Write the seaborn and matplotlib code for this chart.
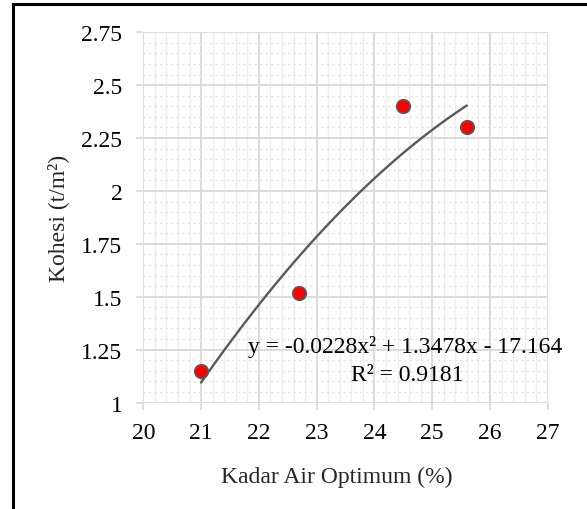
import numpy as np
import pandas as pd
import matplotlib
matplotlib.use("Agg")
import matplotlib.pyplot as plt
import matplotlib.patches as mpatches
from matplotlib.ticker import MultipleLocator, FixedLocator, FixedFormatter
import seaborn as sns

# data
kadar_air = [21.0, 22.7, 24.5, 25.6]
kohesi = [1.15, 1.52, 2.40, 2.30]
x_ticks = [20, 21, 22, 23, 24, 25, 26, 27]
y_ticks = [1, 1.25, 1.5, 1.75, 2, 2.25, 2.5, 2.75]
y_tick_labels = ["1", "1.25", "1.5", "1.75", "2", "2.25", "2.5", "2.75"]
equation_text = "y = -0.0228x\u00b2 + 1.3478x - 17.164"
r2_text = "R\u00b2 = 0.9181"
x_label = "Kadar Air Optimum (%)"
y_label = "Kohesi (t/m\u00b2)"

df = pd.DataFrame({"x": kadar_air, "y": kohesi})

sns.set_theme(style="white")
plt.rcParams["font.family"] = ["Liberation Serif", "DejaVu Serif"]

fig = plt.figure(figsize=(5.87, 5.10), dpi=100)
ax = fig.add_axes([0.2441, 0.2088, 0.689, 0.7259])

# trendline (2nd order polynomial)
sns.regplot(data=df, x="x", y="y", order=2, ci=None, truncate=True,
            scatter=False, ax=ax,
            line_kws=dict(color="#595959", lw=1.7, zorder=3))
# points
sns.scatterplot(data=df, x="x", y="y", ax=ax, s=95, color="#ff0000",
                edgecolor="#595959", linewidth=1.2, zorder=4)

ax.set_xlim(20, 27)
ax.set_ylim(1, 2.75)
ax.xaxis.set_major_locator(FixedLocator(x_ticks))
ax.yaxis.set_major_locator(FixedLocator(y_ticks))
ax.yaxis.set_major_formatter(FixedFormatter(y_tick_labels))
ax.xaxis.set_minor_locator(MultipleLocator(0.2))
ax.yaxis.set_minor_locator(MultipleLocator(0.05))

ax.grid(which="major", color="#d9d9d9", lw=1.3)
ax.grid(which="minor", axis="x", color="#eeeeee", lw=1.0)
ax.grid(which="minor", axis="y", color="#e2e2e2", lw=1.0, ls=(0, (1.5, 2.5)))
ax.set_axisbelow(True)

for s in ax.spines.values():
    s.set_visible(False)

ax.tick_params(which="major", axis="both", direction="out", length=5,
               width=1.2, color="#d9d9d9", labelsize=17, labelcolor="black")
ax.tick_params(axis="y", pad=10, left=True)
ax.tick_params(axis="x", pad=9, bottom=True)
ax.tick_params(which="minor", length=0)

ax.set_xlabel("")
ax.set_ylabel("")

ax.text(0.647, 0.153, equation_text, transform=ax.transAxes, ha="center",
        va="center", fontsize=17, color="black", zorder=5)
ax.text(0.652, 0.077, r2_text, transform=ax.transAxes, ha="center",
        va="center", fontsize=17, color="black", zorder=5)

fig.text(0.574, 0.0647, x_label, ha="center", va="center", fontsize=17)
fig.text(0.0988, 0.5725, y_label, ha="center", va="center", fontsize=17,
         rotation=90)

border = mpatches.Rectangle((0.0213, -0.1), 1.2, 0.990 + 0.1,
                            transform=fig.transFigure, fill=False,
                            edgecolor="black", lw=2.2, clip_on=False)
fig.patches.append(border)

fig.savefig("out.png", dpi=100, facecolor="white")
